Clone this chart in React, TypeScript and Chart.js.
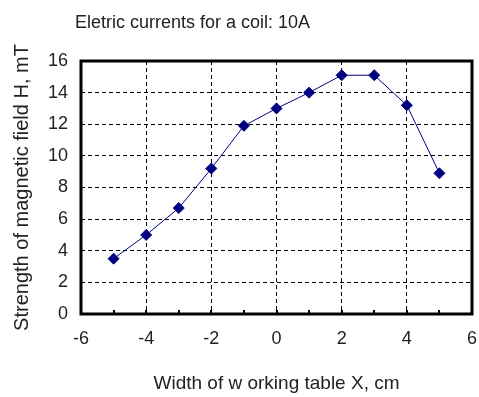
import React, { useEffect, useRef } from "react";
import { Chart, registerables } from "chart.js";

Chart.register(...registerables);

const chartTitle = "Eletric currents for a coil: 10A";
const xTitle = "Width of w orking table X, cm";
const yTitle = "Strength of magnetic field H, mT";
const xValues = [-5, -4, -3, -2, -1, 0, 1, 2, 3, 4, 5];
const hValues = [3.5, 5.0, 6.7, 9.2, 11.9, 13.0, 14.0, 15.1, 15.1, 13.2, 8.9];
const xMin = -6;
const xMax = 6;
const yMin = 0;
const yMax = 16;

const FONT = "'Liberation Sans', Arial, sans-serif";
const NAVY = "#000080";

const framePlugin = {
  id: "frame",
  afterDatasetsDraw(chart: any) {
    const { ctx, chartArea, scales } = chart;
    ctx.save();
    ctx.strokeStyle = "#000";
    ctx.lineWidth = 2;
    for (let v = xMin + 1; v < xMax; v++) {
      const px = Math.round(scales.x.getPixelForValue(v));
      ctx.beginPath();
      ctx.moveTo(px, chartArea.bottom);
      ctx.lineTo(px, chartArea.bottom - 4);
      ctx.stroke();
    }
    ctx.lineWidth = 3;
    ctx.strokeRect(
      chartArea.left,
      chartArea.top,
      chartArea.right - chartArea.left,
      chartArea.bottom - chartArea.top
    );
    ctx.restore();
  },
  afterDraw(chart: any) {
    const { ctx } = chart;
    ctx.save();
    ctx.fillStyle = "#222";
    ctx.font = `18px ${FONT}`;
    ctx.textAlign = "left";
    ctx.textBaseline = "alphabetic";
    ctx.fillText(chartTitle, 75, 28);
    ctx.restore();
  },
};

export default function App() {
  const ref = useRef<HTMLCanvasElement>(null);

  useEffect(() => {
    if (!ref.current) return;
    const chart = new Chart(ref.current, {
      type: "scatter",
      data: {
        datasets: [
          {
            label: "H",
            data: xValues.map((x, i) => ({ x, y: hValues[i] })),
            showLine: true,
            borderColor: NAVY,
            borderWidth: 1,
            backgroundColor: NAVY,
            pointBackgroundColor: NAVY,
            pointBorderColor: NAVY,
            pointStyle: "rectRot",
            pointRadius: 5.5,
            pointBorderWidth: 1,
          },
        ],
      },
      options: {
        responsive: false,
        animation: false,
        devicePixelRatio: 1,
        layout: { padding: { top: 61, right: 7, left: 0, bottom: 0 } },
        plugins: {
          legend: { display: false },
          tooltip: { enabled: false },
          title: { display: false },
        },
        scales: {
          x: {
            type: "linear",
            min: xMin,
            max: xMax,
            afterFit: (s: any) => {
              s.height = 83;
              s.paddingLeft = 0;
              s.paddingRight = 0;
            },
            ticks: {
              stepSize: 1,
              autoSkip: false,
              maxRotation: 0,
              padding: 14,
              color: "#222",
              font: { family: FONT, size: 18 },
              callback: (v: any) => (Number(v) % 2 === 0 ? String(v) : ""),
            },
            grid: {
              drawTicks: false,
              lineWidth: 1,
              color: (c: any) => {
                const v = c.tick ? c.tick.value : 0;
                return v % 2 === 0 && v !== xMin && v !== xMax ? "#000" : "rgba(0,0,0,0)";
              },
            },
            border: { display: false, dash: [4, 3] },
            title: {
              display: true,
              text: xTitle,
              color: "#222",
              font: { family: FONT, size: 19 },
              padding: { top: 0, bottom: 2 },
            },
          },
          y: {
            type: "linear",
            min: yMin,
            max: yMax,
            afterFit: (s: any) => {
              s.width = 81;
              s.paddingTop = 0;
              s.paddingBottom = 0;
            },
            ticks: {
              stepSize: 2,
              padding: 13,
              color: "#222",
              font: { family: FONT, size: 18 },
            },
            grid: {
              drawTicks: false,
              lineWidth: 1,
              color: (c: any) => {
                const v = c.tick ? c.tick.value : 0;
                return v !== yMin && v !== yMax ? "#000" : "rgba(0,0,0,0)";
              },
            },
            border: { display: false, dash: [4, 3] },
            title: {
              display: true,
              text: yTitle,
              color: "#222",
              font: { family: FONT, size: 20 },
              padding: { top: 10, bottom: 0 },
            },
          },
        },
      },
      plugins: [framePlugin],
    });
    return () => chart.destroy();
  }, []);

  return (
    <div style={{ position: "absolute", left: 0, top: 0, width: 479, height: 397, background: "#fff" }}>
      <canvas ref={ref} width={479} height={397} style={{ display: "block" }} />
    </div>
  );
}
